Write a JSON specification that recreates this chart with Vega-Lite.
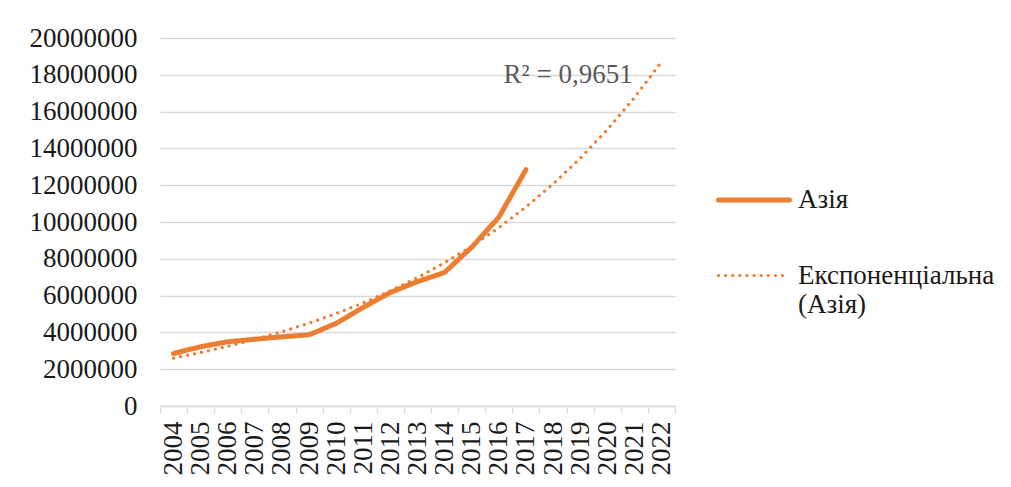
{
  "$schema": "https://vega.github.io/schema/vega-lite/v6.json",
  "width": 515,
  "height": 368,
  "autosize": {"type": "none"},
  "padding": {"left": 160, "top": 38, "right": 336, "bottom": 81},
  "background": "white",
  "config": {"font": "Liberation Serif", "view": {"stroke": null}},
  "data": {
    "values": [
      {"year": "2004", "series": "Азія", "value": 2850000},
      {"year": "2005", "series": "Азія", "value": 3220000},
      {"year": "2006", "series": "Азія", "value": 3490000},
      {"year": "2007", "series": "Азія", "value": 3630000},
      {"year": "2008", "series": "Азія", "value": 3760000},
      {"year": "2009", "series": "Азія", "value": 3870000},
      {"year": "2010", "series": "Азія", "value": 4490000},
      {"year": "2011", "series": "Азія", "value": 5360000},
      {"year": "2012", "series": "Азія", "value": 6170000},
      {"year": "2013", "series": "Азія", "value": 6760000},
      {"year": "2014", "series": "Азія", "value": 7260000},
      {"year": "2015", "series": "Азія", "value": 8630000},
      {"year": "2016", "series": "Азія", "value": 10260000},
      {"year": "2017", "series": "Азія", "value": 12840000},
      {"year": "2004", "series": "Експоненціальна (Азія)", "value": 2604000},
      {"year": "2005", "series": "Експоненціальна (Азія)", "value": 2905000},
      {"year": "2006", "series": "Експоненціальна (Азія)", "value": 3242000},
      {"year": "2007", "series": "Експоненціальна (Азія)", "value": 3617000},
      {"year": "2008", "series": "Експоненціальна (Азія)", "value": 4035000},
      {"year": "2009", "series": "Експоненціальна (Азія)", "value": 4502000},
      {"year": "2010", "series": "Експоненціальна (Азія)", "value": 5023000},
      {"year": "2011", "series": "Експоненціальна (Азія)", "value": 5605000},
      {"year": "2012", "series": "Експоненціальна (Азія)", "value": 6253000},
      {"year": "2013", "series": "Експоненціальна (Азія)", "value": 6977000},
      {"year": "2014", "series": "Експоненціальна (Азія)", "value": 7784000},
      {"year": "2015", "series": "Експоненціальна (Азія)", "value": 8685000},
      {"year": "2016", "series": "Експоненціальна (Азія)", "value": 9690000},
      {"year": "2017", "series": "Експоненціальна (Азія)", "value": 10811000},
      {"year": "2018", "series": "Експоненціальна (Азія)", "value": 12063000},
      {"year": "2019", "series": "Експоненціальна (Азія)", "value": 13459000},
      {"year": "2020", "series": "Експоненціальна (Азія)", "value": 15016000},
      {"year": "2021", "series": "Експоненціальна (Азія)", "value": 16754000},
      {"year": "2022", "series": "Експоненціальна (Азія)", "value": 18693000}
    ]
  },
  "encoding": {
    "x": {
      "field": "year",
      "type": "ordinal",
      "bandPosition": 0.5,
      "scale": {"type": "band", "paddingInner": 0, "paddingOuter": 0},
      "axis": {
        "title": null,
        "grid": false,
        "domainColor": "#D9D9D9",
        "domainWidth": 1.3,
        "tickColor": "#D9D9D9",
        "tickWidth": 1.3,
        "tickSize": 7,
        "tickBand": "extent",
        "labelAngle": 270,
        "labelOverlap": false,
        "labelFont": "Liberation Serif",
        "labelFontSize": 27,
        "labelColor": "#1a1a1a",
        "labelPadding": 8
      }
    },
    "y": {
      "field": "value",
      "type": "quantitative",
      "scale": {"domain": [0, 20000000], "nice": false},
      "axis": {
        "title": null,
        "values": [0, 2000000, 4000000, 6000000, 8000000, 10000000, 12000000, 14000000, 16000000, 18000000, 20000000],
        "tickCount": 20,
        "format": "d",
        "domain": false,
        "ticks": false,
        "grid": true,
        "gridColor": "#D9D9D9",
        "gridWidth": 1.3,
        "labelOverlap": false,
        "labelFont": "Liberation Serif",
        "labelFontSize": 27,
        "labelColor": "#1a1a1a",
        "labelPadding": 23
      }
    }
  },
  "layer": [
    {
      "mark": {"type": "line", "strokeCap": "round", "strokeJoin": "round"},
      "encoding": {
        "color": {
          "field": "series",
          "type": "nominal",
          "scale": {"domain": ["Азія", "Експоненціальна (Азія)"], "range": ["#ED7D31", "#ED7D31"]},
          "legend": {
            "title": null,
            "orient": "none",
            "legendX": 556,
            "legendY": 124,
            "padding": 0,
            "symbolType": "stroke",
            "symbolSize": 5041,
            "labelOffset": 6,
            "labelFont": "'Liberation Serif', 'DejaVu Serif', serif",
            "labelFontSize": 27,
            "labelColor": "#1a1a1a",
            "labelLimit": 400,
            "rowPadding": 25,
            "labelExpr": "datum.label == 'Експоненціальна (Азія)' ? ['Експоненціальна', '(Азія)'] : datum.label",
            "encode": {
              "symbols": {"update": {"strokeCap": {"value": "round"}}}
            }
          }
        },
        "strokeDash": {
          "field": "series",
          "type": "nominal",
          "scale": {"domain": ["Азія", "Експоненціальна (Азія)"], "range": [[1, 0], [0.1, 7]]}
        },
        "strokeWidth": {
          "field": "series",
          "type": "nominal",
          "scale": {"domain": ["Азія", "Експоненціальна (Азія)"], "range": [5, 3.2]}
        }
      }
    },
    {
      "data": {"values": [{"year": "2019", "value": 18000000, "label": "R² = 0,9651"}]},
      "mark": {"type": "text", "align": "center", "baseline": "middle", "dx": -12, "font": "Liberation Serif", "fontSize": 27, "color": "#595959"},
      "encoding": {
        "text": {"field": "label"}
      }
    }
  ]
}
